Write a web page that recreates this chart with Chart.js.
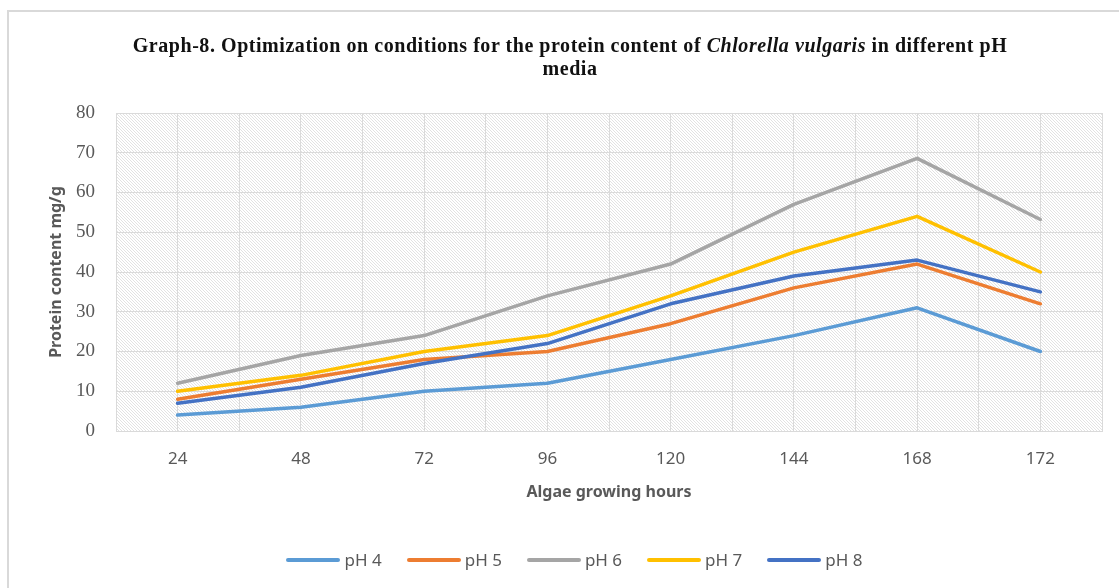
<!DOCTYPE html>
<html>
<head>
<meta charset="utf-8">
<script src="https://cdn.jsdelivr.net/npm/chart.js@4/dist/chart.umd.min.js"></script>
<style>
  html, body { margin: 0; padding: 0; background: #fff; overflow: hidden; }
  #wrap { position: relative; width: 1119px; height: 588px; }
  #frame {
    position: absolute; left: 7px; top: 10px; width: 1200px; height: 700px;
    border: 2px solid #d9d9d9; box-sizing: border-box;
  }
  #chart { position: absolute; left: 0; top: 0; }
  #title {
    position: absolute; left: 0; top: 34px; width: 1140px; text-align: center;
    font: bold 20px "Liberation Serif", serif; line-height: 23px; color: #111;
    letter-spacing: 0.55px;
  }
  #legend {
    position: absolute; left: 0; top: 549px; width: 1149px;
    display: flex; justify-content: center; gap: 25px;
    font: 17px "Noto Sans", sans-serif; line-height: 22px; color: #595959;
  }
  .item { display: flex; align-items: center; gap: 4px; }
  .swatch { width: 54px; height: 4px; border-radius: 2px; }
</style>
</head>
<body>
<div id="wrap">
  <div id="frame"></div>
  <canvas id="chart" width="1119" height="588"></canvas>
  <div id="title">Graph-8. Optimization on conditions for the protein content of <i>Chlorella vulgaris</i> in different pH<br>media</div>
  <div id="legend"></div>
</div>
<script>
// growing hours on the x axis
const hours = ["24", "48", "72", "96", "120", "144", "168", "172"];
const yTicks = [0, 10, 20, 30, 40, 50, 60, 70, 80];

// protein content, mg/g
const ph4 = [4, 6, 10, 12, 18, 24, 31, 20];
const ph5 = [8, 13, 18, 20, 27, 36, 42, 32];
const ph6 = [12, 19, 24, 34, 42, 57, 68.6, 53.2];
const ph7 = [10, 14, 20, 24, 34, 45, 54, 40];
const ph8 = [7, 11, 17, 22, 32, 39, 43, 35];

const seriesNames = ["pH 4", "pH 5", "pH 6", "pH 7", "pH 8"];
const seriesValues = [ph4, ph5, ph6, ph7, ph8];
const seriesColors = ["#5B9BD5", "#ED7D31", "#A5A5A5", "#FFC000", "#4472C4"];

const GRID = "#dadada";
const TEXT = "#595959";

// light diagonal hatch behind the plot
function makeHatch() {
  const tile = document.createElement("canvas");
  tile.width = 3;
  tile.height = 3;
  const t = tile.getContext("2d");
  t.fillStyle = "#e2e2e2";
  for (let i = 0; i < 3; i++) t.fillRect(i, i, 1, 1);
  return tile;
}

const hatchPlugin = {
  id: "hatch",
  beforeDraw(chart) {
    const { ctx, chartArea: a } = chart;
    ctx.save();
    ctx.fillStyle = ctx.createPattern(makeHatch(), "repeat");
    ctx.fillRect(a.left, a.top, a.right - a.left, a.bottom - a.top);
    ctx.restore();
  },
};

const datasets = seriesNames.map((name, i) => ({
  label: name,
  data: seriesValues[i],
  borderColor: seriesColors[i],
  backgroundColor: seriesColors[i],
  borderWidth: 3.5,
  pointRadius: 0,
  tension: 0,
  borderJoinStyle: "round",
  borderCapStyle: "round",
  order: seriesNames.length - i, // later series on top
}));

const chart = new Chart(document.getElementById("chart"), {
  type: "line",
  data: { labels: hours, datasets },
  plugins: [hatchPlugin],
  options: {
    responsive: false,
    animation: false,
    layout: { padding: { top: 113, right: 17, bottom: 0, left: 0 } },
    plugins: {
      legend: { display: false },
      tooltip: { enabled: false },
    },
    scales: {
      x: {
        type: "category",
        offset: true,
        grid: { color: GRID, lineWidth: 1, drawTicks: false },
        border: { color: GRID, width: 1 },
        ticks: {
          color: TEXT,
          padding: 18,
          font: { family: "Noto Sans", size: 17 },
        },
        title: {
          display: true,
          text: "Algae growing hours",
          color: TEXT,
          font: { family: "Noto Sans", size: 16, weight: "bold" },
          padding: { top: 0, bottom: 86 },
        },
        afterFit(scale) {
          scale.height = 157;
        },
      },
      // second category axis only for the gridlines between the hours
      xb: {
        type: "category",
        labels: hours,
        position: "bottom",
        offset: true,
        grid: { offset: true, color: GRID, lineWidth: 1, drawTicks: false },
        border: { display: false },
        ticks: { display: false },
        afterFit(scale) {
          scale.height = 0;
        },
      },
      y: {
        min: 0,
        max: 80,
        afterBuildTicks(scale) {
          scale.ticks = yTicks.map((v) => ({ value: v }));
        },
        grid: { color: GRID, lineWidth: 1, drawTicks: false },
        border: { color: GRID, width: 1 },
        ticks: {
          color: TEXT,
          padding: 21,
          font: { family: "Liberation Serif", size: 19 },
        },
        title: {
          display: true,
          text: "Protein content mg/g",
          color: TEXT,
          font: { family: "Noto Sans", size: 16, weight: "bold" },
          padding: { top: 47, bottom: 0 },
        },
        afterFit(scale) {
          scale.width = 116;
        },
      },
    },
  },
});

// legend row under the chart, built from the datasets
const legend = document.getElementById("legend");
chart.data.datasets.forEach((ds) => {
  const item = document.createElement("div");
  item.className = "item";
  const sw = document.createElement("span");
  sw.className = "swatch";
  sw.style.background = ds.borderColor;
  const txt = document.createElement("span");
  txt.textContent = ds.label;
  item.append(sw, txt);
  legend.append(item);
});
</script>
</body>
</html>
